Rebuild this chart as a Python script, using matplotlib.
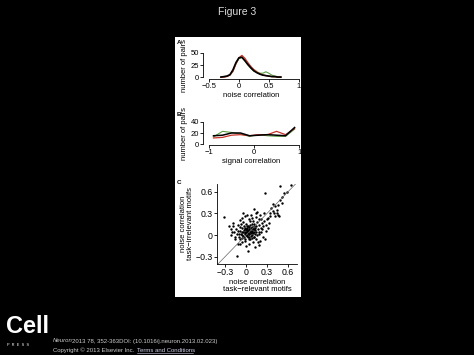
import matplotlib
matplotlib.use("Agg")
import matplotlib.pyplot as plt
from matplotlib.patches import Rectangle
import numpy as np

plt.rcParams['font.family'] = ['Liberation Sans', 'DejaVu Sans']

# Panel A: noise correlation histograms
noise_bins = [-0.3, -0.25, -0.2, -0.15, -0.1, -0.05, 0.0, 0.05, 0.1, 0.15, 0.2,
              0.25, 0.3, 0.35, 0.4, 0.45, 0.5, 0.55, 0.6, 0.65, 0.7]
noise_black = [0, 1, 2, 5, 15, 30, 40, 41, 34, 26, 19, 13, 9, 6, 4, 3, 2, 1, 1, 0, 0]
noise_red = [0, 0, 1, 4, 12, 27, 40, 45, 39, 30, 22, 15, 10, 7, 4, 3, 2, 1, 1, 0, 0]
noise_green = [0, 1, 2, 4, 12, 28, 38, 41, 33, 25, 18, 12, 10, 8, 8, 11, 8, 4, 2, 1, 0]
noise_tan = [0, 0, 2, 5, 13, 29, 39, 43, 36, 27, 20, 16, 12, 7, 5, 3, 2, 1, 0, 0, 0]

# Panel B: signal correlation histograms
signal_bins = [-0.9, -0.7, -0.5, -0.3, -0.1, 0.1, 0.3, 0.5, 0.7, 0.9]
signal_black = [15, 16, 20, 20, 15, 16, 17, 16, 15, 30]
signal_red = [11, 12, 16, 17, 15, 17, 17, 23, 17, 28]
signal_green = [13, 23, 21, 18, 14, 17, 15, 14, 14, 27]

# Panel C: task-relevant vs task-irrelevant noise correlations
relevant = [
    0.49, 0.65, 0.27, 0.51, 0.54, 0.48, 0.46, 0.44, 0.46, 0.47,
    0.41, 0.36, 0.42, 0.58, 0.38, 0.31, -0.32, -0.13, 0.33, 0.30,
    0.26, 0.20, 0.16, 0.14, 0.12, 0.07, 0.02, -0.04, -0.01, 0.09,
    0.22, 0.25, 0.28, 0.18, 0.24, 0.20, 0.10, 0.05, -0.02, -0.08,
    -0.15, -0.20, -0.22, -0.24, -0.18, -0.22, -0.12, 0.00, 0.13, 0.03,
    -0.10, -0.08, -0.06, -0.05, -0.04, -0.03, -0.02, -0.01, 0.00, 0.01,
    0.02, 0.03, 0.04, 0.05, 0.06, 0.07, 0.08, 0.09, 0.10, 0.11,
    0.12, 0.13, 0.14, 0.15, 0.16, 0.17, 0.18, 0.19, 0.21, 0.23,
    -0.09, -0.07, -0.06, -0.04, -0.03, -0.01, 0.00, 0.01, 0.02, 0.03,
    0.04, 0.05, 0.06, 0.07, 0.08, 0.09, 0.10, 0.11, 0.12, 0.13,
    -0.12, -0.11, -0.13, -0.14, -0.10, -0.07, -0.05, -0.02, -0.01, 0.00,
    0.01, 0.02, 0.03, 0.04, 0.05, 0.06, 0.07, 0.08, 0.09, 0.10,
    0.14, 0.16, 0.17, 0.19, 0.21, 0.23, 0.26, 0.29, 0.32, 0.35,
    -0.17, -0.16, -0.19, -0.09, -0.06, 0.04, 0.06, 0.15, 0.18, 0.27,
    -0.08, -0.05, -0.03, 0.00, 0.02, 0.05, 0.08, 0.11, 0.13, -0.04,
    0.39, 0.45, 0.52, 0.40, 0.34, 0.12, 0.07, -0.02, 0.01, 0.03,
]
irrelevant = [
    0.68, 0.69, 0.59, 0.53, 0.58, 0.49, 0.42, 0.30, 0.28, 0.26,
    0.27, 0.38, 0.40, 0.60, 0.33, 0.24, 0.25, -0.29, 0.17, 0.22,
    0.30, 0.28, 0.32, 0.30, 0.36, 0.28, 0.28, 0.30, 0.27, 0.24,
    0.22, 0.12, 0.06, 0.02, -0.03, -0.08, -0.10, -0.12, -0.08, -0.05,
    -0.05, 0.05, 0.09, 0.12, 0.13, 0.00, -0.12, -0.15, -0.16, -0.22,
    0.02, 0.06, 0.00, 0.10, 0.04, -0.02, 0.08, 0.03, 0.00, 0.12,
    0.05, -0.03, 0.09, 0.02, 0.14, -0.01, 0.06, 0.11, 0.03, 0.16,
    0.08, 0.01, 0.12, 0.05, 0.18, 0.09, 0.14, 0.04, 0.10, 0.17,
    0.11, 0.15, -0.04, 0.18, 0.07, -0.06, 0.09, 0.04, -0.01, 0.13,
    0.01, 0.07, -0.05, 0.10, 0.00, 0.05, 0.20, -0.02, 0.13, 0.07,
    0.06, 0.14, 0.01, 0.09, -0.03, 0.02, 0.05, 0.02, 0.10, 0.05,
    0.00, 0.07, 0.03, -0.05, 0.11, 0.04, 0.06, -0.04, 0.15, 0.08,
    -0.06, 0.00, -0.10, 0.22, 0.04, 0.08, 0.19, 0.14, 0.10, 0.27,
    0.04, -0.02, 0.17, 0.21, 0.24, 0.22, 0.19, 0.25, -0.14, -0.05,
    -0.12, -0.10, 0.12, 0.16, 0.10, -0.02, 0.10, 0.05, 0.10, -0.01,
    0.43, 0.35, 0.45, 0.31, 0.31, -0.03, 0.03, 0.05, 0.07, 0.06,
]

W, H = 474, 355
fig = plt.figure(figsize=(W / 100, H / 100), dpi=100)
fig.patch.set_facecolor('black')


def px_axes(l, t, r, b):
    return fig.add_axes([l / W, 1 - b / H, (r - l) / W, (b - t) / H])


# white panel holding the figure (drawn under the axes)
fig.patches.append(Rectangle((175 / W, 1 - 297 / H), 126 / W, 260 / H,
                             transform=fig.transFigure, facecolor='white',
                             edgecolor='none', zorder=-5))

red = '#c8332b'
green = '#5b9f45'
tan = '#c9a36a'
fs = 5.5


def style(ax, size=fs):
    for s in ['top', 'right']:
        ax.spines[s].set_visible(False)
    for s in ['left', 'bottom']:
        ax.spines[s].set_linewidth(0.6)
    ax.tick_params(width=0.6, length=2, pad=1, labelsize=size)
    ax.patch.set_visible(False)


# Panel A
axA = px_axes(203, 52, 300, 79)
axA.plot(noise_bins, noise_tan, color=tan, lw=0.8)
axA.plot(noise_bins, noise_green, color=green, lw=0.8)
axA.plot(noise_bins, noise_red, color=red, lw=0.9)
axA.plot(noise_bins, noise_black, color='black', lw=1.2)
axA.set_xlim(-0.6, 1.02)
axA.set_ylim(-4, 52)
axA.set_xticks([-0.5, 0, 0.5, 1])
axA.set_xticklabels(['\u22120.5', '0', '0.5', '1'])
axA.set_yticks([0, 25, 50])
axA.spines['left'].set_bounds(0, 50)
axA.spines['bottom'].set_bounds(-0.5, 1)
style(axA)
axA.set_xlabel('noise correlation', fontsize=fs, labelpad=1)
axA.set_ylabel('number of pairs', fontsize=fs, labelpad=2)

# Panel B
axB = px_axes(203, 121, 300, 145)
axB.plot(signal_bins, signal_green, color=green, lw=0.8)
axB.plot(signal_bins, signal_red, color=red, lw=0.9)
axB.plot(signal_bins, signal_black, color='black', lw=1.1)
axB.set_xlim(-1.133, 1.02)
axB.set_ylim(-1.8, 41.8)
axB.set_xticks([-1, 0, 1])
axB.set_xticklabels(['\u22121', '0', '1'])
axB.set_yticks([0, 20, 40])
axB.spines['left'].set_bounds(0, 40)
axB.spines['bottom'].set_bounds(-1, 1)
style(axB)
axB.set_xlabel('signal correlation', fontsize=fs, labelpad=1)
axB.set_ylabel('number of pairs', fontsize=fs, labelpad=2)

# Panel C
axC = px_axes(217, 184, 297, 264)
axC.set_xlim(-0.414, 0.729)
axC.set_ylim(-0.40, 0.708)
axC.plot([-0.40, 0.708], [-0.40, 0.708], color='#666666', lw=0.5)
axC.scatter(relevant, irrelevant, s=3, color='black', lw=0)
axC.set_xticks([-0.3, 0, 0.3, 0.6])
axC.set_xticklabels(['\u22120.3', '0', '0.3', '0.6'])
axC.set_yticks([-0.3, 0, 0.3, 0.6])
axC.set_yticklabels(['\u22120.3', '0', '0.3', '0.6'])
style(axC, size=6.3)
axC.set_xlabel('noise correlation\ntask\u2212relevant motifs', fontsize=fs,
               labelpad=1, linespacing=1.1)
axC.set_ylabel('noise correlation\ntask\u2212irrelevant motifs', fontsize=fs,
               labelpad=1, linespacing=1.1)

# panel letters
for letter, y in [('A', 43), ('B', 115), ('C', 183)]:
    fig.text(177 / W, 1 - y / H, letter, fontsize=4.5, fontweight='bold',
             color='black', ha='left', va='center')

# slide title
fig.text(237 / W, 1 - 12 / H, 'Figure 3', fontsize=7.5, color='#dddddd',
         ha='center', va='center')

# Cell Press logo
fig.text(6 / W, 1 - 333 / H, 'Cell', fontsize=17, fontweight='bold',
         color='white', ha='left', va='baseline')
fig.text(7 / W, 1 - 346 / H, 'P  R  E  S  S', fontsize=2.8, color='white',
         ha='left', va='baseline')

# citation
fig.text(53 / W, 1 - 341 / H, 'Neuron', fontsize=4.3, style='italic',
         color='#cccccc', ha='left', va='center')
fig.text(72 / W, 1 - 341 / H,
         '2013 78, 352-363DOI: (10.1016/j.neuron.2013.02.023)',
         fontsize=4.3, color='#cccccc', ha='left', va='center')
fig.text(53 / W, 1 - 350 / H, 'Copyright \u00a9 2013 Elsevier Inc.',
         fontsize=4.3, color='#cccccc', ha='left', va='center')
fig.text(137 / W, 1 - 350 / H, 'Terms and Conditions', fontsize=4.3,
         color='#cfcfe8', ha='left', va='center')
fig.lines.append(plt.Line2D([137 / W, 193 / W], [1 - 352.5 / H, 1 - 352.5 / H],
                            transform=fig.transFigure, color='#cfcfe8', lw=0.4))

fig.savefig('out.png', dpi=100, facecolor='black')
